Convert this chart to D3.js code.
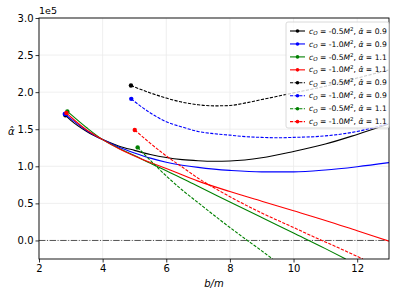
<!DOCTYPE html>
<html>
<head>
<meta charset="utf-8">
<script src="https://cdn.jsdelivr.net/npm/d3@7"></script>
<style>
body { margin: 0; background: #fff; }
text { font-family: "DejaVu Sans", sans-serif; }
</style>
</head>
<body>
<svg id="chart"></svg>
<script>
'use strict';

// b/m values and alpha-hat values (in units of 1e5)
var bSolidBlack = [2.83, 3.0, 3.5, 4.0, 4.5, 5.0, 5.5, 6.0, 6.5, 7.0, 7.5, 8.0, 9.0, 10.0, 11.0, 12.0, 13.0];
var aSolidBlack = [1.687, 1.62, 1.47, 1.36, 1.275, 1.215, 1.16, 1.118, 1.09, 1.075, 1.068, 1.072, 1.115, 1.20, 1.30, 1.43, 1.57];

var bSolidBlue = [2.81, 3.0, 3.5, 4.0, 4.5, 5.0, 5.5, 6.0, 6.5, 7.0, 7.5, 8.0, 9.0, 10.0, 11.0, 12.0, 13.0];
var aSolidBlue = [1.706, 1.64, 1.48, 1.36, 1.26, 1.18, 1.11, 1.055, 1.015, 0.985, 0.962, 0.945, 0.925, 0.925, 0.95, 0.995, 1.05];

var bSolidGreen = [2.89, 3.0, 3.5, 4.0, 4.5, 5.0, 5.5, 6.0, 7.0, 8.0, 9.0, 10.0, 11.0, 11.64];
var aSolidGreen = [1.74, 1.70, 1.52, 1.36, 1.245, 1.145, 1.04, 0.94, 0.73, 0.52, 0.31, 0.10, -0.11, -0.25];

var bSolidRed = [2.86, 3.0, 3.5, 4.0, 4.5, 5.0, 5.5, 6.0, 7.0, 8.0, 9.0, 10.0, 11.0, 12.0, 13.0];
var aSolidRed = [1.72, 1.665, 1.49, 1.36, 1.24, 1.14, 1.05, 0.97, 0.80, 0.66, 0.53, 0.40, 0.27, 0.13, -0.01];

var bDashBlack = [4.89, 5.0, 5.5, 6.0, 6.5, 7.0, 7.5, 8.0, 8.5, 9.0, 10.0, 11.0, 12.0, 13.0];
var aDashBlack = [2.09, 2.07, 1.99, 1.92, 1.865, 1.83, 1.815, 1.82, 1.855, 1.90, 1.99, 2.08, 2.19, 2.30];

var bDashBlue = [4.9, 5.0, 5.5, 6.0, 6.5, 7.0, 7.5, 8.0, 8.5, 9.0, 9.5, 10.0, 11.0, 12.0, 13.0];
var aDashBlue = [1.91, 1.875, 1.72, 1.60, 1.53, 1.47, 1.44, 1.42, 1.40, 1.39, 1.385, 1.39, 1.41, 1.47, 1.58];

var bDashGreen = [5.10, 5.5, 6.0, 6.5, 7.0, 7.5, 8.0, 8.55, 9.0, 9.34];
var aDashGreen = [1.255, 1.08, 0.87, 0.68, 0.51, 0.34, 0.175, 0.0, -0.14, -0.25];

var bDashRed = [5.01, 5.5, 6.0, 6.5, 7.0, 7.5, 8.0, 9.0, 10.0, 10.89, 11.0, 12.0, 12.18];
var aDashRed = [1.49, 1.31, 1.14, 0.99, 0.84, 0.71, 0.59, 0.37, 0.175, 0.0, -0.02, -0.215, -0.25];

var c0Labels = ['-0.5', '-1.0', '-0.5', '-1.0', '-0.5', '-1.0', '-0.5', '-1.0'];
var alphaLabels = ['0.9', '0.9', '1.1', '1.1', '0.9', '0.9', '1.1', '1.1'];
var xTicks = [2, 4, 6, 8, 10, 12];
var yTicks = [0.0, 0.5, 1.0, 1.5, 2.0, 2.5, 3.0];

function render() {
    var series = [
        { b: bSolidBlack, a: aSolidBlack, color: '#000000', dashed: false },
        { b: bSolidBlue, a: aSolidBlue, color: '#0000ff', dashed: false },
        { b: bSolidGreen, a: aSolidGreen, color: '#008000', dashed: false },
        { b: bSolidRed, a: aSolidRed, color: '#ff0000', dashed: false },
        { b: bDashBlack, a: aDashBlack, color: '#000000', dashed: true },
        { b: bDashBlue, a: aDashBlue, color: '#0000ff', dashed: true },
        { b: bDashGreen, a: aDashGreen, color: '#008000', dashed: true },
        { b: bDashRed, a: aDashRed, color: '#ff0000', dashed: true }
    ];

    var w = 399, h = 299;
    var pl = 39, pr = 389, pt = 18, pb = 259;

    var svg = d3.select('#chart').attr('width', w).attr('height', h);

    var x = d3.scaleLinear().domain([2, 13]).range([pl, pr]);
    var y = d3.scaleLinear().domain([-0.25, 3.0]).range([pb, pt]);

    var clip = svg.append('clipPath').attr('id', 'plotclip');
    clip.append('rect').attr('x', pl).attr('y', pt).attr('width', pr - pl).attr('height', pb - pt);

    // grid
    var grid = svg.append('g');
    grid.selectAll('.gx').data(xTicks).enter().append('line')
        .attr('x1', function (d) { return x(d); }).attr('x2', function (d) { return x(d); })
        .attr('y1', pt).attr('y2', pb)
        .attr('stroke', '#ebebeb').attr('stroke-width', 0.8);
    grid.selectAll('.gy').data(yTicks).enter().append('line')
        .attr('y1', function (d) { return y(d); }).attr('y2', function (d) { return y(d); })
        .attr('x1', pl).attr('x2', pr)
        .attr('stroke', '#ebebeb').attr('stroke-width', 0.8);

    var plot = svg.append('g').attr('clip-path', 'url(#plotclip)');

    // zero line
    plot.append('line')
        .attr('x1', pl).attr('x2', pr)
        .attr('y1', y(0)).attr('y2', y(0))
        .attr('stroke', '#000').attr('stroke-opacity', 0.65).attr('stroke-width', 1)
        .attr('stroke-dasharray', '6.4,1.6,1,1.6');

    var line = d3.line()
        .x(function (d) { return x(d[0]); })
        .y(function (d) { return y(d[1]); })
        .curve(d3.curveMonotoneX);

    series.forEach(function (s) {
        var pts = s.b.map(function (v, i) { return [v, s.a[i]]; });
        plot.append('path').datum(pts)
            .attr('d', line)
            .attr('fill', 'none')
            .attr('stroke', s.color)
            .attr('stroke-width', 1.1)
            .attr('stroke-dasharray', s.dashed ? '3.2,1.4' : null);
        plot.append('circle')
            .attr('cx', x(pts[0][0])).attr('cy', y(pts[0][1]))
            .attr('r', 2.2).attr('fill', s.color);
    });

    // frame
    svg.append('rect')
        .attr('x', pl).attr('y', pt).attr('width', pr - pl).attr('height', pb - pt)
        .attr('fill', 'none').attr('stroke', '#000').attr('stroke-width', 0.9);

    // axes
    var xAxis = svg.append('g').attr('transform', 'translate(0,' + pb + ')')
        .call(d3.axisBottom(x).tickValues(xTicks).tickSize(3.5).tickPadding(2).tickFormat(d3.format('d')));
    var yAxis = svg.append('g').attr('transform', 'translate(' + pl + ',0)')
        .call(d3.axisLeft(y).tickValues(yTicks).tickSize(3.5).tickPadding(2).tickFormat(d3.format('.1f')));
    [xAxis, yAxis].forEach(function (g) {
        g.select('.domain').remove();
        g.selectAll('text').attr('font-size', 10).attr('fill', '#000')
            .attr('font-family', '"DejaVu Sans", sans-serif');
        g.selectAll('line').attr('stroke', '#000').attr('stroke-width', 0.8);
    });

    svg.append('text').attr('x', pl).attr('y', 14).attr('font-size', 9.5).text('1e5');

    svg.append('text').attr('x', (pl + pr) / 2).attr('y', 287)
        .attr('text-anchor', 'middle').attr('font-size', 10).attr('font-style', 'italic').text('b/m');

    svg.append('text').attr('x', 8).attr('y', 135)
        .attr('font-size', 10).attr('font-style', 'italic').text('α\u0302');

    // legend
    var legX = 286, legY = 22, rowH = 12.95;
    var leg = svg.append('g');
    leg.append('rect')
        .attr('x', legX).attr('y', legY).attr('width', 103).attr('height', 106)
        .attr('rx', 2).attr('fill', '#fff').attr('fill-opacity', 0.8)
        .attr('stroke', '#d0d0d0').attr('stroke-width', 0.8);

    series.forEach(function (s, i) {
        var cy = legY + 9 + i * rowH;
        leg.append('line')
            .attr('x1', legX + 4).attr('x2', legX + 19).attr('y1', cy).attr('y2', cy)
            .attr('stroke', s.color).attr('stroke-width', 1.1)
            .attr('stroke-dasharray', s.dashed ? '3.2,1.4' : null);
        leg.append('circle').attr('cx', legX + 11.5).attr('cy', cy).attr('r', 1.8).attr('fill', s.color);
        var t = leg.append('text').attr('x', legX + 23).attr('y', cy + 2.6).attr('font-size', 7.6);
        t.append('tspan').attr('font-style', 'italic').text('c');
        t.append('tspan').attr('font-style', 'italic').attr('font-size', 5.5).attr('dy', 1.5).text('O');
        t.append('tspan').attr('dy', -1.5).text(' = ' + c0Labels[i]);
        t.append('tspan').attr('font-style', 'italic').text('M');
        t.append('tspan').attr('font-size', 5.5).attr('dy', -3).text('2');
        t.append('tspan').attr('dy', 3).text(', ');
        t.append('tspan').attr('font-style', 'italic').text('α\u0302');
        t.append('tspan').text(' = ' + alphaLabels[i]);
    });
}

render();
</script>
</body>
</html>
